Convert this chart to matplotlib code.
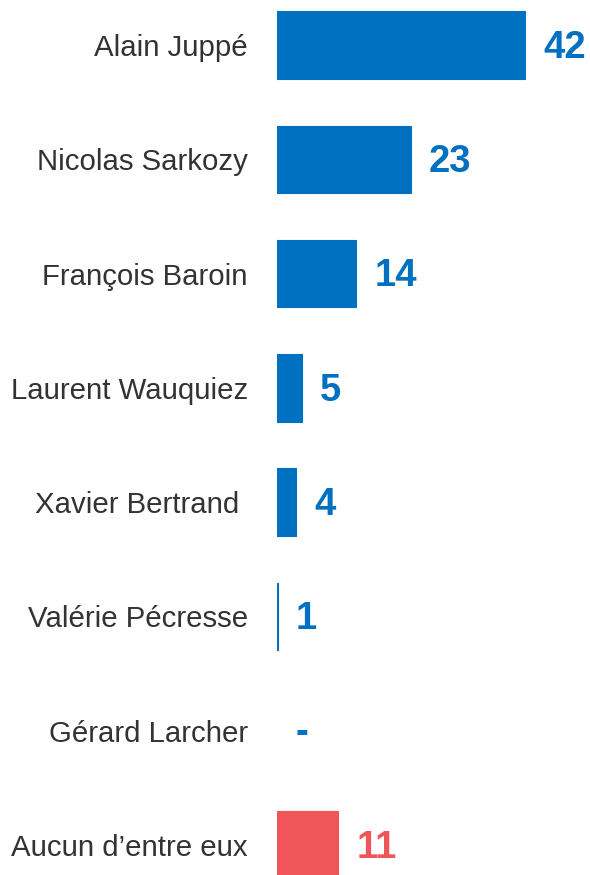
import matplotlib.pyplot as plt

names = ['Alain Juppé', 'Nicolas Sarkozy', 'François Baroin', 'Laurent Wauquiez',
         'Xavier Bertrand ', 'Valérie Pécresse', 'Gérard Larcher', 'Aucun d\u2019entre eux']
values = [42, 23, 14, 5, 4, 1, 0, 11]
shown = ['42', '23', '14', '5', '4', '1', '-', '11']

blue = '#0070C0'
red = '#F0555A'
colors = [blue] * 7 + [red]

plt.rcParams['font.family'] = ['Liberation Sans', 'DejaVu Sans']

fig = plt.figure(figsize=(5.9, 8.75), dpi=100)
ax = fig.add_axes([277 / 590, 0, 313 / 590, 1])

pos = list(range(len(names)))
ax.barh(pos, values, height=0.59, color=colors, edgecolor=colors, linewidth=0.8)

for i, (v, s, c) in enumerate(zip(values, shown, colors)):
    ax.annotate(s, (max(v, 0.83), i), xytext=(13, -2), textcoords='offset points',
                ha='left', va='center', fontsize=27.5, fontweight='bold', color=c,
                annotation_clip=False)

ax.set_yticks(pos)
ax.set_yticklabels(names, fontsize=21.2, color='#333333')
ax.tick_params(axis='y', length=0, pad=21)
ax.set_xticks([])
ax.set_xlim(0.83, 52.8)
ax.set_ylim(7.2625, -0.394)
for sp in ax.spines.values():
    sp.set_visible(False)

fig.savefig('out.png', dpi=100)
